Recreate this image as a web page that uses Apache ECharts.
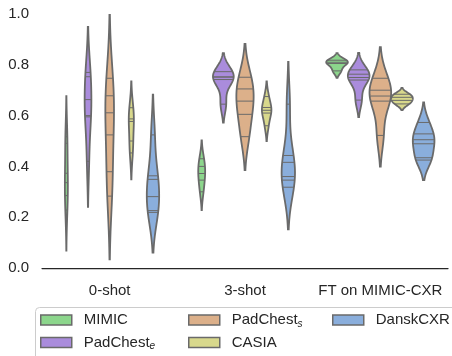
<!DOCTYPE html>
<html>
<head>
<meta charset="utf-8">
<script src="https://cdn.jsdelivr.net/npm/echarts@6/dist/echarts.min.js"></script>
<style>
  html, body { margin: 0; padding: 0; background: #fff; }
  #chart { width: 452px; height: 356px; }
</style>
</head>
<body>
<div id="chart"></div>
<script>
const categories = ['0-shot', '3-shot', 'FT on MIMIC-CXR'];
const hues = ['MIMIC', 'PadChest_e', 'PadChest_s', 'CASIA', 'DanskCXR'];
const colors = ['#8cd68c', '#aa8cdc', '#dcb08a', '#d8d88c', '#8aaedc'];
const yTicks = [0, 0.2, 0.4, 0.6, 0.8, 1.0];

// per-run scores (the stick lines), one list per category
const mimic = [
  [0.517, 0.491, 0.373, 0.336, 0.285, 0.228],
  [0.43, 0.40, 0.372, 0.346, 0.30],
  [0.818, 0.81, 0.805, 0.776]
];
const padchestE = [
  [0.77, 0.753, 0.663, 0.60, 0.595, 0.42],
  [0.773, 0.752, 0.752, 0.742, 0.645],
  [0.78, 0.763, 0.75, 0.74, 0.661]
];
const padchestS = [
  [0.747, 0.678, 0.611, 0.524, 0.379, 0.283],
  [0.751, 0.705, 0.657, 0.605, 0.517],
  [0.747, 0.70, 0.677, 0.657, 0.522]
];
const casia = [
  [0.631, 0.587, 0.577, 0.50, 0.453],
  [0.675, 0.632, 0.621, 0.61, 0.56],
  [0.684, 0.672, 0.66, 0.646]
];
const danskcxr = [
  [0.524, 0.363, 0.349, 0.281, 0.226, 0.219],
  [0.645, 0.443, 0.416, 0.36, 0.346, 0.318],
  [0.573, 0.528, 0.505, 0.489, 0.434, 0.425]
];
const scores = [mimic, padchestE, padchestS, casia, danskcxr];

// gaussian kde, scott bandwidth, cut = 2 (like seaborn)
function kde(obs) {
  const n = obs.length;
  const mean = obs.reduce((a, b) => a + b, 0) / n;
  const sd = Math.sqrt(obs.reduce((a, b) => a + (b - mean) ** 2, 0) / (n - 1));
  const bw = sd * Math.pow(n, -0.2);
  const lo = Math.min(...obs) - 2 * bw;
  const hi = Math.max(...obs) + 2 * bw;
  const dens = v => obs.reduce((s, o) => s + Math.exp(-0.5 * ((v - o) / bw) ** 2), 0) / (n * bw * Math.sqrt(2 * Math.PI));
  const grid = [];
  for (let i = 0; i < 100; i++) {
    const v = lo + (hi - lo) * i / 99;
    grid.push([v, dens(v)]);
  }
  return { grid, sticks: obs.map(o => [o, dens(o)]), max: Math.max(...grid.map(g => g[1])), lo, hi };
}

const kdes = scores.map(h => h.map(kde));
const hueMax = kdes.map(h => Math.max(...h.map(k => k.max)));

const lineColor = '#6a6a6a';
const font = 'Liberation Sans, Arial, sans-serif';

const chart = echarts.init(document.getElementById('chart'));

const series = hues.map((name, h) => ({
  type: 'custom',
  name,
  itemStyle: { color: colors[h] },
  encode: { x: 0, y: [1, 2] },
  data: kdes[h].map((k, c) => [c, k.lo, k.hi]),
  renderItem(params, api) {
    const c = api.value(0);
    const k = kdes[h][c];
    const band = api.size([1, 0])[0];
    const cx = api.coord([c, 0])[0] + (h - 2) * 0.16 * band;
    const s = 0.08 * band / hueMax[h];
    const right = k.grid.map(([v, d]) => [cx + d * s, api.coord([c, v])[1]]);
    const left = k.grid.slice().reverse().map(([v, d]) => [cx - d * s, api.coord([c, v])[1]]);
    const sticks = k.sticks.map(([v, d]) => {
      const y = api.coord([c, v])[1];
      return {
        type: 'line',
        shape: { x1: cx - d * s, y1: y, x2: cx + d * s, y2: y },
        style: { stroke: lineColor, lineWidth: 1 }
      };
    });
    return {
      type: 'group',
      children: [
        { type: 'polygon', shape: { points: right.concat(left) }, style: { fill: colors[h], stroke: lineColor, lineWidth: 1.8 } },
        ...sticks
      ]
    };
  }
}));

function makeLegend(left, data) {
  return {
    orient: 'vertical',
    left,
    top: 311,
    padding: 0,
    width: 140,
    height: 45,
    itemWidth: 31,
    itemHeight: 10,
    itemGap: 4.5,
    icon: 'rect',
    selectedMode: false,
    data,
    itemStyle: { borderColor: lineColor, borderWidth: 1.5 },
    formatter: n => n.includes('_') ? n.split('_')[0] + '{sub|' + n.split('_')[1] + '}' : n,
    textStyle: {
      fontFamily: font, fontSize: 15, color: '#262626', lineHeight: 18, padding: [0, 0, 0, 7],
      rich: { sub: { fontFamily: font, fontSize: 10, fontStyle: 'italic', color: '#262626', lineHeight: 10, verticalAlign: 'bottom' } }
    }
  };
}

chart.setOption({
  animation: false,
  grid: { left: 42, right: 4, top: 14, bottom: 88 },
  xAxis: {
    type: 'category',
    data: categories,
    offset: 4,
    axisLine: { lineStyle: { color: '#262626', width: 1.25 } },
    axisTick: { show: false },
    axisLabel: { fontFamily: font, fontSize: 15, color: '#262626', margin: 11, interval: 0 },
    splitLine: { show: false }
  },
  yAxis: {
    type: 'value',
    min: yTicks[0],
    max: yTicks[yTicks.length - 1],
    interval: 0.2,
    axisLine: { show: false },
    axisTick: { show: false },
    splitLine: { show: false },
    axisLabel: { fontFamily: font, fontSize: 15, color: '#262626', margin: 13, formatter: v => v.toFixed(1) }
  },
  graphic: [{
    type: 'rect',
    shape: { x: 35.5, y: 307.5, width: 440, height: 60, r: 4 },
    style: { fill: null, stroke: '#cccccc', lineWidth: 1 },
    silent: true
  }],
  legend: [
    makeLegend(40, ['MIMIC', 'PadChest_e']),
    makeLegend(188, ['PadChest_s', 'CASIA']),
    makeLegend(332, ['DanskCXR'])
  ],
  series
});
</script>
</body>
</html>
